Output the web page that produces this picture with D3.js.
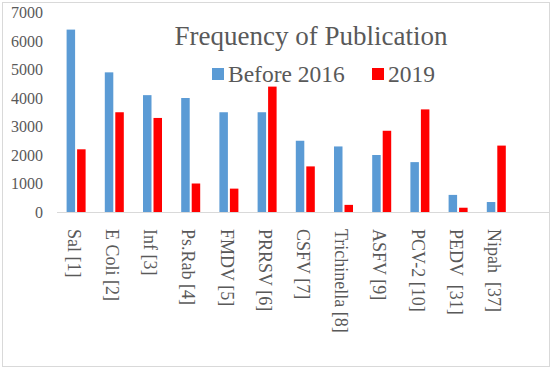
<!DOCTYPE html>
<html>
<head>
<meta charset="utf-8">
<style>
  body { margin: 0; background: #fff; }
  text { font-family: 'Liberation Serif', 'Times New Roman', serif; fill: #595959; }
</style>
</head>
<body>
<div id="chart"></div>
<script src="https://cdnjs.cloudflare.com/ajax/libs/d3/7.8.5/d3.min.js"></script>
<script>
const categories = ['Sal [1]', 'E Coli [2]', 'Inf [3]', 'Ps.Rab [4]', 'FMDV [5]', 'PRRSV [6]',
  'CSFV [7]', 'Trichinella [8]', 'ASFV [9]', 'PCV-2 [10]', 'PEDV  [31]', 'Nipah  [37]'];
const before2016 = [6400, 4900, 4100, 4000, 3500, 3500, 2500, 2300, 2000, 1750, 600, 350];
const y2019 = [2200, 3500, 3300, 1000, 820, 4400, 1600, 250, 2850, 3600, 150, 2330];
const seriesNames = ['Before 2016', '2019'];
const yTicks = [0, 1000, 2000, 3000, 4000, 5000, 6000, 7000];

const width = 555, height = 370;
const colors = ['#5B9BD5', '#FF0000'];

const svg = d3.select('#chart').append('svg')
    .attr('width', width)
    .attr('height', height);

// outer border
svg.append('rect')
    .attr('x', 2.5).attr('y', 2.5)
    .attr('width', 547).attr('height', 364)
    .attr('fill', '#fff')
    .attr('stroke', '#d9d9d9');

const bandW = 38.2;
const x = d3.scaleBand()
    .domain(categories)
    .range([57, 57 + bandW * categories.length])
    .paddingInner(0).paddingOuter(0);

const y = d3.scaleLinear()
    .domain([0, 7000])
    .range([212, 12.5]);

const barW = 8.5, gap = 2;

// y axis labels
svg.append('g').selectAll('text')
    .data(yTicks)
    .join('text')
    .attr('x', 43)
    .attr('y', d => y(d))
    .attr('dy', '0.35em')
    .attr('text-anchor', 'end')
    .style('font-size', '16px')
    .text(d => d);

// bars
const rows = categories.map((c, i) => ({ cat: c, vals: [before2016[i], y2019[i]] }));
const groups = svg.append('g').selectAll('g')
    .data(rows)
    .join('g')
    .attr('transform', d => `translate(${x(d.cat) + x.bandwidth() / 2},0)`);

groups.selectAll('rect')
    .data(d => d.vals)
    .join('rect')
    .attr('x', (d, j) => j === 0 ? -barW - gap / 2 : gap / 2)
    .attr('y', d => y(d))
    .attr('width', barW)
    .attr('height', d => y(0) - y(d))
    .attr('fill', (d, j) => colors[j]);

// baseline
svg.append('line')
    .attr('x1', 57).attr('x2', 549)
    .attr('y1', y(0) + 0.5).attr('y2', y(0) + 0.5)
    .attr('stroke', '#d9d9d9');

// x labels, rotated
svg.append('g').selectAll('text')
    .data(categories)
    .join('text')
    .attr('transform', d => `translate(${x(d) + x.bandwidth() / 2 - 2},229) rotate(90)`)
    .attr('dy', '0.35em')
    .style('font-size', '18px')
    .style('white-space', 'pre')
    .text(d => d);

// title
svg.append('text')
    .attr('x', 311).attr('y', 45)
    .attr('text-anchor', 'middle')
    .style('font-size', '27px')
    .text('Frequency of Publication');

// legend
const legendX = [212, 372];
const legend = svg.append('g').selectAll('g')
    .data(seriesNames)
    .join('g')
    .attr('transform', (d, i) => `translate(${legendX[i]},68)`);
legend.append('rect')
    .attr('width', 12).attr('height', 12)
    .attr('fill', (d, i) => colors[i]);
legend.append('text')
    .attr('x', 16).attr('y', 14)
    .style('font-size', '23.5px')
    .text(d => d);
</script>
</body>
</html>
